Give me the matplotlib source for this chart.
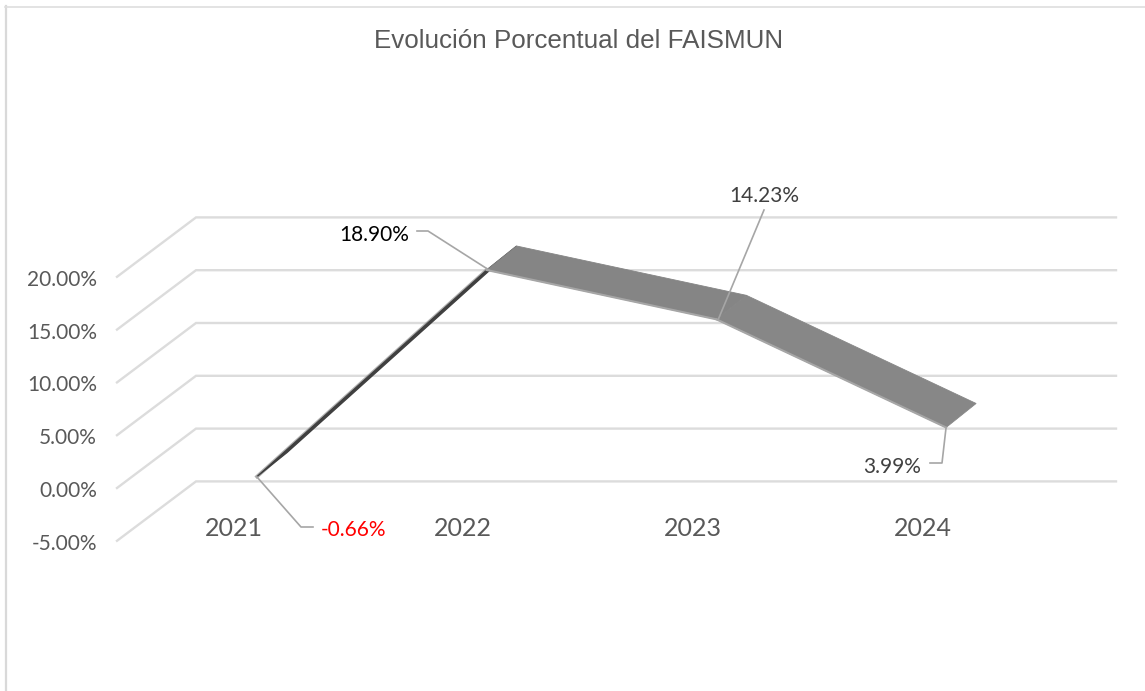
import matplotlib
matplotlib.use('Agg')
import matplotlib.pyplot as plt
from matplotlib.transforms import Affine2D

years = ['2021', '2022', '2023', '2024']
values = [-0.66, 18.90, 14.23, 3.99]
value_labels = ['-0.66%', '18.90%', '14.23%', '3.99%']
grid_values = [-5, 0, 5, 10, 15, 20]
title = 'Evolución Porcentual del FAISMUN'

W, H = 1145, 691
CAT_PX = 229.7   # pixels per category
VAL_PX = 10.56   # pixels per percentage point
X0_PX = 257      # pixel x of first category
Y0_PX = 469.6    # pixel y of 0% on the ribbon plane

# fake 3d: offsets of the other planes relative to the ribbon front edge
RIB_DX, RIB_DY = 30 / CAT_PX, 24 / VAL_PX
WALL_DY = 41.0 / VAL_PX
FRONT_DY = -18.4 / VAL_PX
GRID_FRONT = (117 - X0_PX) / CAT_PX
GRID_WALL = (196 - X0_PX) / CAT_PX
GRID_RIGHT = (1116 - X0_PX) / CAT_PX

plt.rcParams['font.family'] = ['Lato', 'DejaVu Sans']

fig = plt.figure(figsize=(W / 100, H / 100), dpi=100)
ax = fig.add_axes([0, 0, 1, 1])
ax.set_xlim(-X0_PX / CAT_PX, (W - X0_PX) / CAT_PX)
ax.set_ylim((Y0_PX - H) / VAL_PX, Y0_PX / VAL_PX)
ax.axis('off')

# pixel coordinates (y down) for the furniture
pix = Affine2D().scale(1, -1).translate(0, H)

# chart frame
ax.plot([5.5, 5.5], [691, 6], color='#d9d9d9', lw=1.6, transform=pix)
ax.plot([5, 1145], [6.5, 6.5], color='#dedede', lw=1.2, transform=pix)

# grid: slanted side wall + back wall
for v in grid_values:
    ax.plot([GRID_FRONT, GRID_WALL, GRID_RIGHT],
            [v + FRONT_DY, v + WALL_DY, v + WALL_DY],
            color='#dcdcdc', lw=1.7, solid_joinstyle='miter', zorder=1)
    ax.text(GRID_FRONT - 20 / CAT_PX, v + FRONT_DY - 0.28, '%.2f%%' % v, ha='right', va='center',
            color='#595959', fontsize=15, zorder=5)

# ribbon, one face per segment; the first one is edge-on so it goes underneath
faces = ['#3f3f3f', '#858585', '#878787']
for i in range(3):
    xs = [i, i + RIB_DX, i + 1 + RIB_DX, i + 1]
    ys = [values[i], values[i] + RIB_DY, values[i + 1] + RIB_DY, values[i + 1]]
    if i == 0:
        ax.plot([i, i + 1], [values[i], values[i + 1]], color='#8c8c8c', lw=2.6, zorder=1.5, alpha=0.7)
        ax.fill(xs, ys, color=faces[i], lw=0.9, zorder=1.6)
    else:
        ax.fill(xs, ys, color=faces[i], lw=0.6, zorder=2 + i * 0.1)
        ax.plot([i, i + 1], [values[i], values[i + 1]], color='#a6a6a6', lw=1.5, zorder=3)

# category labels
for i, y in enumerate(years):
    ax.text(i - 23.5 / CAT_PX, -5.6, y, ha='center', va='center', color='#595959', fontsize=18, zorder=5)

# leaders
leader = '#a6a6a6'
ax.plot([257, 301, 313], [477, 527, 527], color=leader, lw=1.2, transform=pix, zorder=4)
ax.plot([417, 428, 489], [231, 231, 270], color=leader, lw=1.2, transform=pix, zorder=4)
ax.plot([764, 718], [210, 320], color=leader, lw=1.2, transform=pix, zorder=4)
ax.plot([930, 942, 946], [463, 463, 428], color=leader, lw=1.2, transform=pix, zorder=4)

# data labels
ax.text(321, 530, value_labels[0], ha='left', va='center', color='#ff0000', fontsize=15, transform=pix)
ax.text(409, 235, value_labels[1], ha='right', va='center', color='#000000', fontsize=15, transform=pix)
ax.text(764, 196, value_labels[2], ha='center', va='center', color='#404040', fontsize=15, transform=pix)
ax.text(921, 467, value_labels[3], ha='right', va='center', color='#404040', fontsize=15, transform=pix)

ax.text(579, 41, title, ha='center', va='center', color='#595959', fontsize=18.7,
        family=['Liberation Sans', 'DejaVu Sans'], transform=pix)

fig.savefig('out.png', dpi=100)
